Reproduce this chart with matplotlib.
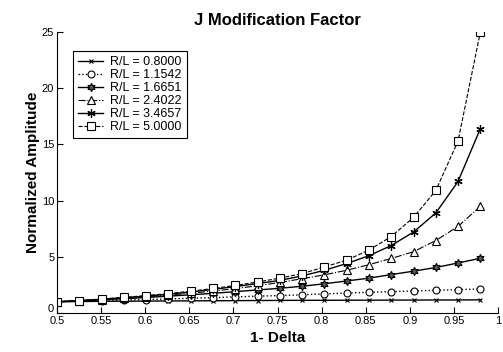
import matplotlib.pyplot as plt
import matplotlib.transforms as mtransforms

plt.rcParams['font.family'] = ['Liberation Sans', 'DejaVu Sans']

# x positions of the samples (1 - delta)
one_minus_delta = [0.5000, 0.5253, 0.5505, 0.5758, 0.6011, 0.6263, 0.6516, 0.6768, 0.7021, 0.7274,
                   0.7526, 0.7779, 0.8032, 0.8284, 0.8537, 0.8789, 0.9042, 0.9295, 0.9547, 0.9800]

# normalized amplitude for each R/L ratio
rl_labels = ['R/L = 0.8000', 'R/L = 1.1542', 'R/L = 1.6651', 'R/L = 2.4022', 'R/L = 3.4657', 'R/L = 5.0000']
amp_080 = [1.00, 1.02, 1.04, 1.05, 1.06, 1.07, 1.08, 1.09, 1.10, 1.11,
           1.12, 1.13, 1.13, 1.14, 1.14, 1.15, 1.15, 1.16, 1.16, 1.17]
amp_115 = [1.00, 1.05, 1.10, 1.15, 1.20, 1.25, 1.31, 1.37, 1.43, 1.50,
           1.55, 1.62, 1.70, 1.77, 1.84, 1.90, 1.96, 2.02, 2.08, 2.14]
amp_167 = [1.00, 1.08, 1.18, 1.27, 1.38, 1.50, 1.62, 1.75, 1.90, 2.05,
           2.20, 2.38, 2.60, 2.85, 3.10, 3.42, 3.72, 4.05, 4.45, 4.87]
amp_240 = [1.00, 1.09, 1.20, 1.32, 1.45, 1.60, 1.76, 1.95, 2.17, 2.42,
           2.72, 3.05, 3.40, 3.80, 4.30, 4.85, 5.45, 6.45, 7.70, 9.50]
amp_347 = [1.00, 1.10, 1.22, 1.36, 1.50, 1.67, 1.87, 2.10, 2.35, 2.62,
           2.90, 3.30, 3.80, 4.40, 5.10, 6.00, 7.20, 8.90, 11.70, 16.40]
amp_500 = [1.00, 1.11, 1.24, 1.39, 1.55, 1.73, 1.94, 2.18, 2.45, 2.76,
           3.10, 3.50, 4.10, 4.70, 5.60, 6.80, 8.50, 10.90, 15.30, 25.00]

x_ticks = [0.5, 0.55, 0.6, 0.65, 0.7, 0.75, 0.8, 0.85, 0.9, 0.95, 1.0]
x_tick_labels = ['0.5', '0.55', '0.6', '0.65', '0.7', '0.75', '0.8', '0.85', '0.9', '0.95', '1']
y_ticks = [0, 5, 10, 15, 20, 25]

fig = plt.figure(figsize=(5.03, 3.52), dpi=100)
ax = fig.add_axes([57 / 503, 39 / 352, 441 / 503, 281 / 352])

asterisk = (6, 2, 0)
hexstar = (6, 1, 0)
ax.plot(one_minus_delta, amp_080, '-', color='black', lw=1.0, marker='x', ms=3.5, mew=0.8, label=rl_labels[0])
ax.plot(one_minus_delta, amp_115, ':', color='black', lw=1.0, marker='o', ms=5, mfc='white', mec='black', mew=0.8, label=rl_labels[1])
ax.plot(one_minus_delta, amp_167, '-', color='black', lw=1.0, marker=hexstar, ms=6, mfc='0.35', mec='black', mew=0.8, label=rl_labels[2])
ax.plot(one_minus_delta, amp_240, '-.', color='black', lw=0.8, marker='^', ms=5.5, mfc='white', mec='black', mew=0.8, label=rl_labels[3])
ax.plot(one_minus_delta, amp_347, '-', color='black', lw=1.0, marker=asterisk, ms=6, mec='black', mew=0.9, label=rl_labels[4])
ax.plot(one_minus_delta, amp_500, '--', color='black', lw=0.8, marker='s', ms=5.5, mfc='white', mec='black', mew=0.8, label=rl_labels[5])

ax.set_xlim(0.5, 1.0)
ax.set_ylim(0, 25)
ax.set_xticks(x_ticks)
ax.set_xticklabels(x_tick_labels)
ax.set_yticks(y_ticks)
ax.tick_params(direction='in', length=4, width=0.8, labelsize=8, pad=2)
ax.spines['top'].set_visible(False)
ax.spines['right'].set_visible(False)

# lift the "0" label a little, as in the original, so it clears "0.5"
fig.canvas.draw()
zero_label = ax.get_yticklabels()[0]
zero_label.set_transform(zero_label.get_transform() +
                         mtransforms.ScaledTranslation(0, 5 / 100, fig.dpi_scale_trans))

ax.set_title('J Modification Factor', fontsize=12, fontweight='bold', pad=5)
ax.set_xlabel('1- Delta', fontsize=11, fontweight='bold', labelpad=4)
ax.set_ylabel('Normalized Amplitude', fontsize=11, fontweight='bold', labelpad=1)

leg = ax.legend(loc='upper left', bbox_to_anchor=(16 / 441, 1 - 19 / 281), borderaxespad=0,
                fontsize=9, handlelength=2.0, handletextpad=0.6, labelspacing=0.08,
                borderpad=0.4, fancybox=False, framealpha=1, edgecolor='black')
leg.get_frame().set_linewidth(0.8)

plt.savefig('out.png', dpi=100)
plt.close()
